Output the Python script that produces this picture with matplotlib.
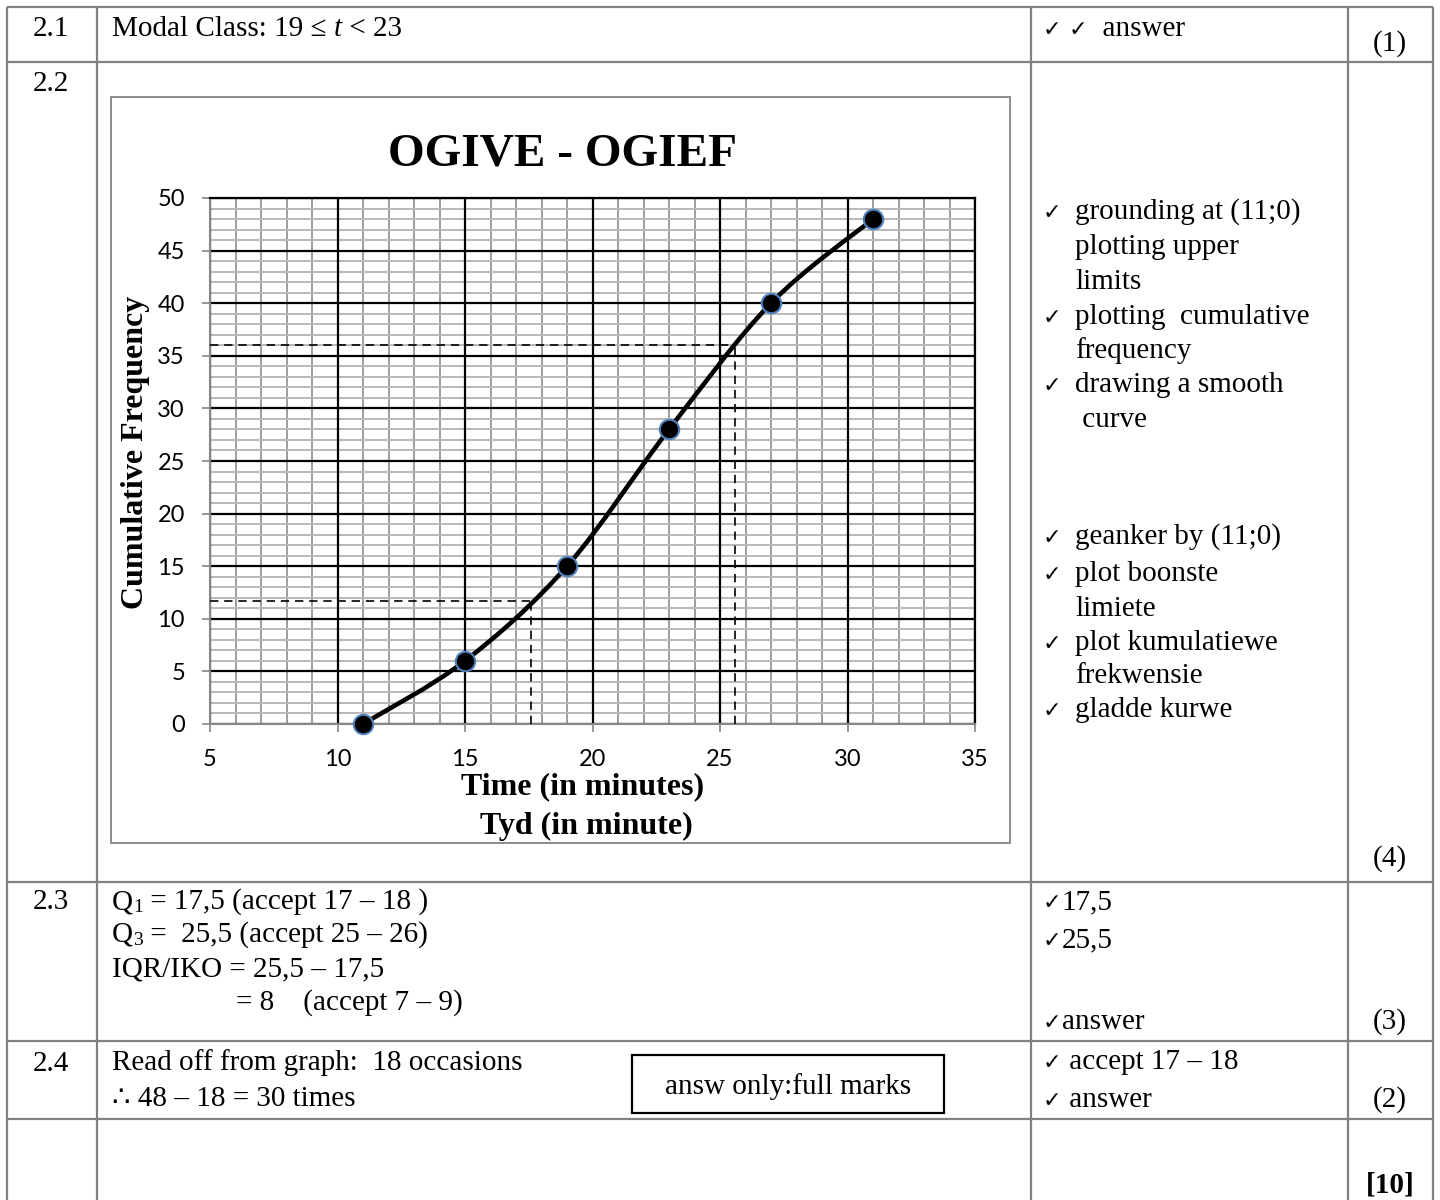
import numpy as np
import matplotlib
matplotlib.use("Agg")
import matplotlib.pyplot as plt
from matplotlib.path import Path
from matplotlib.patches import PathPatch, Rectangle

# datos de la ojiva
tiempo = [11, 15, 19, 23, 27, 31]
frec_acum = [0, 6, 15, 28, 40, 48]
q1_tiempo, q1_frec = 17.6, 11.7
q3_tiempo, q3_frec = 25.6, 36
ticks_x = [5, 10, 15, 20, 25, 30, 35]
ticks_y = [0, 5, 10, 15, 20, 25, 30, 35, 40, 45, 50]

SERIF = ["Liberation Serif", "DejaVu Sans"]
GRIS = "#808080"

fig = plt.figure(figsize=(14.4, 12), dpi=100)
fondo = fig.add_axes([0, 0, 1, 1])
fondo.set_xlim(0, 1440)
fondo.set_ylim(1200, 0)
fondo.axis("off")
rend = fig.canvas.get_renderer()

# tabla
columnas = [7, 97, 1031, 1348, 1433]
filas = [7, 62, 882, 1041, 1119]
for c in columnas:
    fondo.plot([c, c], [filas[0], 1200], color=GRIS, lw=1.6, solid_capstyle="butt")
for f in filas:
    fondo.plot([columnas[0], columnas[-1]], [f, f], color=GRIS, lw=1.6, solid_capstyle="butt")

fondo.add_patch(Rectangle((111, 97), 899, 746, fill=False, ec="#8c8c8c", lw=1.4))


def texto(x, y, s, size=21, **kw):
    return fondo.text(x, y, s, fontsize=size, family=SERIF, va="baseline", **kw)


def cadena(x, y, partes):
    # pone trozos de texto uno tras otro
    for s, size, dy, kw in partes:
        t = texto(x, y + dy, s, size=size, **kw)
        x += t.get_window_extent(rend).width


CHK = ("✓", 16, 0, {})
SP = (" ", 21, 0, {})

# fila 2.1
texto(51, 36, "2.1", ha="center")
cadena(112, 36, [("Modal Class: 19 ≤ ", 21, 0, {}),
                 ("t", 21, 0, {"style": "italic"}),
                 (" < 23", 21, 0, {})])
cadena(1043, 36, [CHK, SP, CHK, ("  answer", 21, 0, {})])
texto(1390, 51, "(1)", ha="center")

# fila 2.2
texto(51, 91, "2.2", ha="center")
bloque1 = [("✓", "grounding at (11;0)"), (None, "plotting upper"), (None, "limits"),
           ("✓", "plotting  cumulative"), (None, "frequency"),
           ("✓", "drawing a smooth"), (None, " curve")]
for (chk, s), y in zip(bloque1, [219, 254, 289, 324, 358, 392, 427]):
    if chk:
        texto(1043, y, chk, size=16)
    texto(1075, y, s)
bloque2 = [("✓", "geanker by (11;0)"), ("✓", "plot boonste"), (None, "limiete"),
           ("✓", "plot kumulatiewe"), (None, "frekwensie"), ("✓", "gladde kurwe")]
for (chk, s), y in zip(bloque2, [544, 581, 616, 650, 683, 717]):
    if chk:
        texto(1043, y, chk, size=16)
    texto(1075, y, s)
texto(1390, 866, "(4)", ha="center")

# fila 2.3
texto(51, 909, "2.3", ha="center")
cadena(112, 909, [("Q", 21, 0, {}), ("1", 14, 3, {}), (" = 17,5 (accept 17 – 18 )", 21, 0, {})])
cadena(112, 942, [("Q", 21, 0, {}), ("3", 14, 3, {}), (" =  25,5 (accept 25 – 26)", 21, 0, {})])
texto(112, 976, "IQR/IKO = 25,5 – 17,5")
texto(236, 1010, "= 8    (accept 7 – 9)")
cadena(1043, 909, [CHK, ("17,5", 21, 0, {})])
cadena(1043, 947, [CHK, ("25,5", 21, 0, {})])
cadena(1043, 1029, [CHK, ("answer", 21, 0, {})])
texto(1390, 1029, "(3)", ha="center")

# fila 2.4
texto(51, 1071, "2.4", ha="center")
texto(112, 1070, "Read off from graph:  18 occasions")
texto(112, 1106, "∴ 48 – 18 = 30 times")
fondo.add_patch(Rectangle((632, 1055), 312, 58, fill=False, ec="black", lw=1.6))
texto(788, 1094, "answ only:full marks", ha="center")
cadena(1043, 1069, [CHK, (" accept 17 – 18", 21, 0, {})])
cadena(1043, 1107, [CHK, (" answer", 21, 0, {})])
texto(1390, 1107, "(2)", ha="center")
texto(1390, 1192, "[10]", ha="center", weight="bold")

# grafico
texto(562, 166, "OGIVE - OGIEF", size=34, ha="center", weight="bold")
fondo.text(135, 452, "Cumulative Frequency", fontsize=23, family=SERIF, weight="bold",
           rotation=90, ha="center", va="center")
texto(583, 794, "Time (in minutes)", size=23, ha="center", weight="bold")
texto(586, 834, "Tyd (in minute)", size=23, ha="center", weight="bold")

ax = fig.add_axes([210 / 1440, 1 - 724 / 1200, 765 / 1440, 526 / 1200])
ax.set_facecolor("white")

menor_x = np.arange(ticks_x[0], ticks_x[-1] + 1)
menor_y = np.arange(ticks_y[0], ticks_y[-1] + 1)
ax.vlines(menor_x, ticks_y[0], ticks_y[-1], color="#8e8e8e", lw=1.2, zorder=0.5)
ax.hlines(menor_y, ticks_x[0], ticks_x[-1], color="#b9b9b9", lw=1.4, zorder=0.6)
ax.vlines(ticks_x, ticks_y[0], ticks_y[-1], color="black", lw=1.6, zorder=0.8)
ax.hlines(ticks_y, ticks_x[0], ticks_x[-1], color="black", lw=1.6, zorder=0.8)

# lineas de cuartiles
estilo = dict(color="black", lw=1.2, linestyle=(0, (5, 3.5)), zorder=2.8)
ax.hlines(q1_frec, ticks_x[0], q1_tiempo, **estilo)
ax.vlines(q1_tiempo, 0, q1_frec, **estilo)
ax.hlines(q3_frec, ticks_x[0], q3_tiempo, **estilo)
ax.vlines(q3_tiempo, 0, q3_frec, **estilo)

# curva suave tipo excel
pts = np.column_stack([tiempo, frec_acum]).astype(float)
n = len(pts)
verts = [pts[0]]
codes = [Path.MOVETO]
for i in range(n - 1):
    p0 = pts[max(i - 1, 0)]
    p1 = pts[i]
    p2 = pts[i + 1]
    p3 = pts[min(i + 2, n - 1)]
    verts += [p1 + (p2 - p0) / 6, p2 - (p3 - p1) / 6, p2]
    codes += [Path.CURVE4] * 3
ax.add_patch(PathPatch(Path(verts, codes), fill=False, ec="black", lw=3.3,
                       capstyle="round", zorder=3))
ax.plot(tiempo, frec_acum, "o", ms=14, mfc="black", mec="#4f81bd", mew=1.5, zorder=4,
        clip_on=False)

ax.set_xlim(ticks_x[0], ticks_x[-1])
ax.set_ylim(ticks_y[0], ticks_y[-1])
ax.set_xticks(ticks_x)
ax.set_yticks(ticks_y)
ax.tick_params(length=6, width=1.2, color="#868686", pad=12, labelsize=17)
for lab in ax.get_xticklabels() + ax.get_yticklabels():
    lab.set_family("Lato")
for lado in ["left", "bottom"]:
    ax.spines[lado].set_color("#868686")
    ax.spines[lado].set_linewidth(1.5)
for lado in ["top", "right"]:
    ax.spines[lado].set_color("black")
    ax.spines[lado].set_linewidth(1.6)

fig.savefig("out.png", dpi=100)
